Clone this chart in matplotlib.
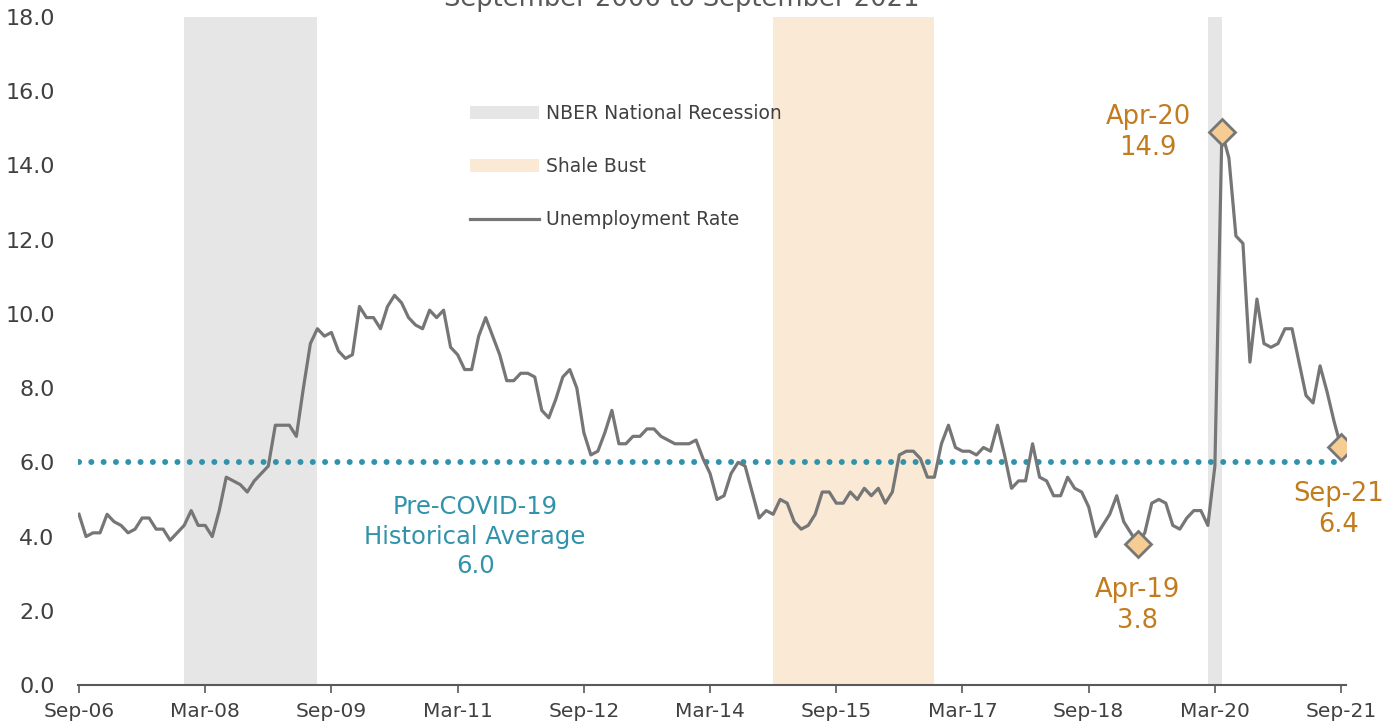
import numpy as np
import pandas as pd
import matplotlib
matplotlib.use("Agg")
import matplotlib.pyplot as plt
from matplotlib.patches import Patch
from matplotlib.lines import Line2D

plt.rcParams['font.family'] = ['DejaVu Sans']

# Data: monthly unemployment rate, Sep-06 .. Sep-21
start = '2006-09'
rate = [4.6, 4.0, 4.1, 4.1, 4.6, 4.4, 4.3, 4.1, 4.2, 4.5, 4.5, 4.2, 4.2, 3.9, 4.1, 4.3,
        4.7, 4.3, 4.3, 4.0, 4.7, 5.6, 5.5, 5.4, 5.2, 5.5, 5.7, 5.9, 7.0, 7.0, 7.0, 6.7,
        8.0, 9.2, 9.6, 9.4, 9.5, 9.0, 8.8, 8.9, 10.2, 9.9, 9.9, 9.6, 10.2, 10.5, 10.3, 9.9,
        9.7, 9.6, 10.1, 9.9, 10.1, 9.1, 8.9, 8.5, 8.5, 9.4, 9.9, 9.4, 8.9, 8.2, 8.2, 8.4,
        8.4, 8.3, 7.4, 7.2, 7.7, 8.3, 8.5, 8.0, 6.8, 6.2, 6.3, 6.8, 7.4, 6.5, 6.5, 6.7,
        6.7, 6.9, 6.9, 6.7, 6.6, 6.5, 6.5, 6.5, 6.6, 6.1, 5.7, 5.0, 5.1, 5.7, 6.0, 5.9,
        5.2, 4.5, 4.7, 4.6, 5.0, 4.9, 4.4, 4.2, 4.3, 4.6, 5.2, 5.2, 4.9, 4.9, 5.2, 5.0,
        5.3, 5.1, 5.3, 4.9, 5.2, 6.2, 6.3, 6.3, 6.1, 5.6, 5.6, 6.5, 7.0, 6.4, 6.3, 6.3,
        6.2, 6.4, 6.3, 7.0, 6.2, 5.3, 5.5, 5.5, 6.5, 5.6, 5.5, 5.1, 5.1, 5.6, 5.3, 5.2,
        4.8, 4.0, 4.3, 4.6, 5.1, 4.4, 4.1, 3.8, 4.1, 4.9, 5.0, 4.9, 4.3, 4.2, 4.5, 4.7,
        4.7, 4.3, 5.9, 14.9, 14.2, 12.1, 11.9, 8.7, 10.4, 9.2, 9.1, 9.2, 9.6, 9.6, 8.7, 7.8,
        7.6, 8.6, 7.9, 7.1, 6.4]
dates = pd.date_range(start, periods=len(rate), freq='MS')

historical_avg = 6.0
recessions = [('2007-12', '2009-07'), ('2020-02', '2020-04')]
shale_bust = ('2014-12', '2016-11')
highlights = ['2019-04', '2020-04', '2021-09']
tick_dates = pd.date_range(start, '2021-09', freq='18MS')


def midx(d):
    d = pd.Timestamp(d)
    return (d.year - dates[0].year) * 12 + d.month - dates[0].month


x = np.arange(len(rate))

GRAY_LINE = '#767676'
TEAL = '#3193ab'
ORANGE = '#c27c1e'
TXT = '#404040'

fig = plt.figure(figsize=(14, 7.28), dpi=100)
ax = fig.add_axes([78.3 / 1400, 43 / 728, (1346 - 78.3) / 1400, 668 / 728])

for a, b in recessions:
    ax.axvspan(midx(a), midx(b), color='#e6e6e6', lw=0, zorder=0)
ax.axvspan(midx(shale_bust[0]), midx(shale_bust[1]), color='#f9e9d5', lw=0, zorder=0)

ax.plot([0, len(rate) - 1], [historical_avg, historical_avg], color=TEAL, lw=4.3,
        dashes=(0.01, 2.05), dash_capstyle='round', solid_capstyle='round', zorder=2)
ax.plot(x, rate, color=GRAY_LINE, lw=2.3, zorder=3)

for d in highlights:
    i = midx(d)
    ax.plot(i, rate[i], marker='D', ms=13.5, mfc='#f6cc95', mec=GRAY_LINE, mew=2, zorder=4)

# annotations
i = midx('2020-04')
ax.annotate(f"{dates[i]:%b-%y}\n{rate[i]:.1f}", xy=(i, rate[i]), xytext=(-53, 0),
            textcoords='offset points', ha='center', va='center', fontsize=18.5,
            color=ORANGE, linespacing=1.25)
i = midx('2019-04')
ax.annotate(f"{dates[i]:%b-%y}\n{rate[i]:.1f}", xy=(i, rate[i]), xytext=(0, -44),
            textcoords='offset points', ha='center', va='center', fontsize=18.5,
            color=ORANGE, linespacing=1.25)
i = midx('2021-09')
ax.annotate(f"{dates[i]:%b-%y}\n{rate[i]:.1f}", xy=(i, rate[i]), xytext=(-2, -45),
            textcoords='offset points', ha='center', va='center', fontsize=18.5,
            color=ORANGE, linespacing=1.25)
ax.text(56.5, 4.0, f"Pre-COVID-19\nHistorical Average\n{historical_avg:.1f}",
        ha='center', va='center', fontsize=17.5, color=TEAL, linespacing=1.3)

ax.set_xlim(-0.1, 180.7)
ax.set_ylim(0, 18)
ax.set_yticks(np.arange(0, 18.1, 2))
ax.set_yticklabels([f"{v:.1f}" for v in np.arange(0, 18.1, 2)])
ax.set_xticks([midx(d) for d in tick_dates])
ax.set_xticklabels([f"{d:%b-%y}" for d in tick_dates])
ax.tick_params(axis='y', length=0, pad=17, labelsize=16, labelcolor=TXT)
ax.tick_params(axis='x', length=6, width=1.2, color='#595959', pad=6, labelsize=14.5,
               labelcolor=TXT)
for s in ['top', 'right', 'left']:
    ax.spines[s].set_visible(False)
ax.spines['bottom'].set_color('#595959')
ax.spines['bottom'].set_linewidth(1.5)

handles = [Patch(facecolor='#e6e6e6', edgecolor='none'),
           Patch(facecolor='#f9e9d5', edgecolor='none'),
           Line2D([], [], color=GRAY_LINE, lw=2.3)]
labels = ['NBER National Recession', 'Shale Bust', 'Unemployment Rate']
fig.legend(handles, labels, loc='upper left', bbox_to_anchor=(470 / 1400, 1 - 104 / 728),
           frameon=False, fontsize=13.5, handlelength=3.7, handletextpad=0.35,
           labelspacing=1.82, borderpad=0, borderaxespad=0, labelcolor=TXT)

fig.text(682 / 1400, 1 - 6 / 728, 'September 2006 to September 2021', ha='center',
         va='baseline', fontsize=18.5, color='#595959')

fig.savefig('out.png', dpi=100)
